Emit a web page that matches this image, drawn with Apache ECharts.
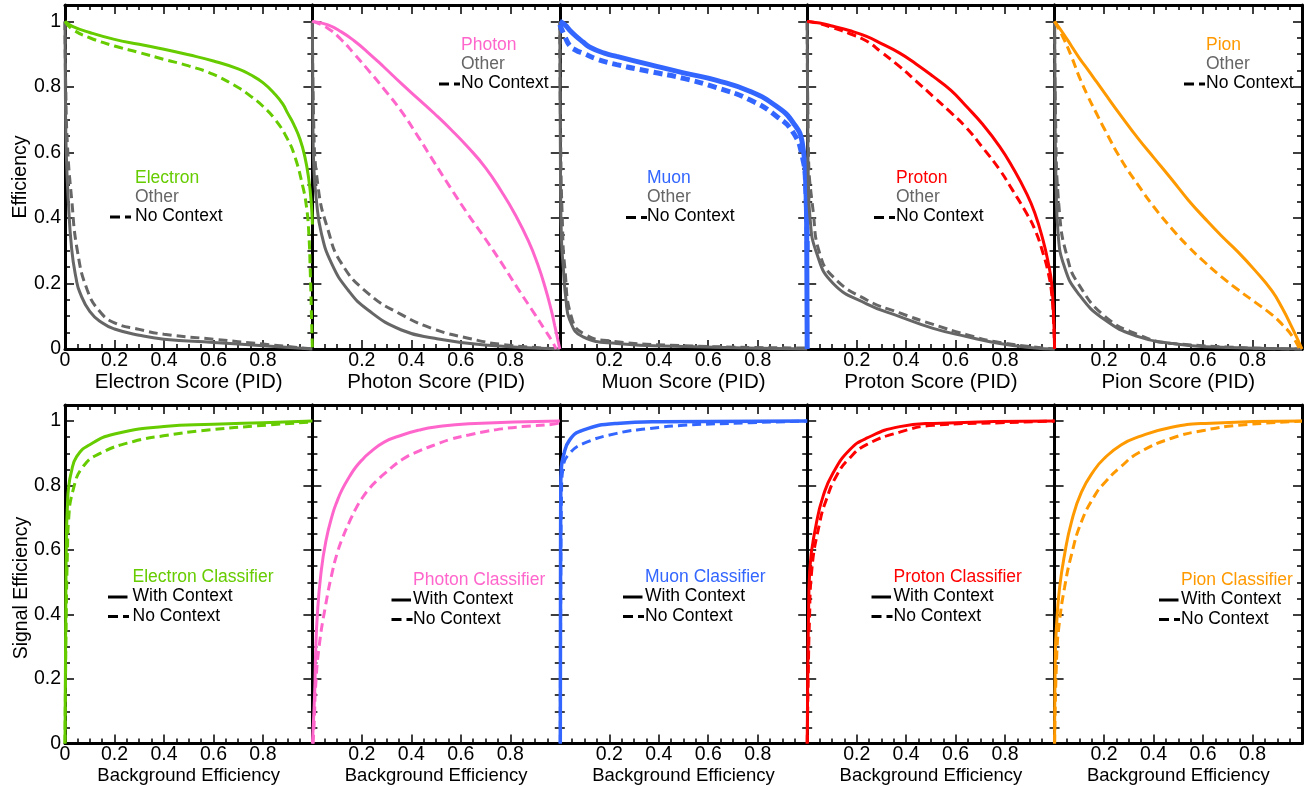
<!DOCTYPE html>
<html>
<head>
<meta charset="utf-8">
<script src="https://cdn.jsdelivr.net/npm/echarts@6/dist/echarts.min.js"></script>
<style>
  html, body { margin: 0; padding: 0; background: #fff; }
  #main { width: 1306px; height: 786px; }
</style>
</head>
<body>
<div id="main"></div>
<script>
// ---- data: [score, efficiency] ----
var electronSig     = [[0,1],[0.03,0.985],[0.1,0.966],[0.2,0.945],[0.3,0.93],[0.4,0.915],[0.5,0.898],[0.6,0.879],[0.7,0.855],[0.75,0.837],[0.8,0.813],[0.85,0.777],[0.88,0.748],[0.9,0.72],[0.925,0.685],[0.95,0.64],[0.97,0.585],[0.985,0.52],[0.995,0.45],[1,0.38]];
var electronSigNo   = [[0,1],[0.03,0.976],[0.1,0.95],[0.2,0.925],[0.3,0.905],[0.4,0.884],[0.5,0.864],[0.6,0.838],[0.7,0.798],[0.75,0.772],[0.8,0.741],[0.85,0.7],[0.9,0.64],[0.93,0.585],[0.96,0.5],[0.975,0.44],[0.985,0.36],[0.992,0.22],[0.997,0.08],[1,0]];
var electronOther   = [[0,1],[0.002,0.75],[0.005,0.6],[0.013,0.457],[0.027,0.305],[0.045,0.215],[0.06,0.173],[0.1,0.115],[0.15,0.08],[0.2,0.061],[0.3,0.042],[0.4,0.03],[0.6,0.02],[0.8,0.01],[1,0]];
var electronOtherNo = [[0,1],[0.003,0.8],[0.01,0.62],[0.027,0.457],[0.05,0.3],[0.09,0.18],[0.14,0.115],[0.2,0.08],[0.3,0.06],[0.4,0.045],[0.6,0.03],[0.8,0.015],[1,0]];

var photonSig     = [[0,1],[0.06,0.99],[0.117,0.968],[0.17,0.94],[0.225,0.905],[0.29,0.86],[0.36,0.81],[0.43,0.762],[0.494,0.718],[0.56,0.67],[0.63,0.615],[0.7,0.553],[0.765,0.48],[0.82,0.41],[0.873,0.33],[0.91,0.26],[0.94,0.19],[0.965,0.12],[0.98,0.07],[1,0]];
var photonSigNo   = [[0,1],[0.06,0.98],[0.117,0.944],[0.17,0.9],[0.225,0.852],[0.29,0.793],[0.36,0.725],[0.43,0.645],[0.494,0.568],[0.56,0.49],[0.63,0.41],[0.7,0.335],[0.765,0.262],[0.83,0.185],[0.9,0.105],[0.94,0.058],[0.968,0.025],[0.985,0]];
var photonOther   = [[0,1],[0.002,0.7],[0.006,0.55],[0.016,0.455],[0.036,0.354],[0.077,0.262],[0.144,0.18],[0.225,0.119],[0.36,0.058],[0.494,0.033],[0.696,0.012],[1,0]];
var photonOtherNo = [[0,1],[0.005,0.7],[0.023,0.495],[0.063,0.364],[0.117,0.262],[0.225,0.17],[0.36,0.105],[0.494,0.06],[0.63,0.033],[0.765,0.014],[1,0]];

var muonSig     = [[0,1],[0.02,0.99],[0.04,0.973],[0.065,0.955],[0.094,0.937],[0.12,0.922],[0.18,0.903],[0.23,0.893],[0.364,0.868],[0.5,0.843],[0.634,0.82],[0.77,0.786],[0.877,0.74],[0.944,0.69],[0.98,0.63],[0.994,0.507],[0.998,0.35],[1,0]];
var muonSigNo   = [[0,0.99],[0.02,0.955],[0.04,0.926],[0.065,0.912],[0.094,0.903],[0.15,0.885],[0.23,0.868],[0.364,0.847],[0.5,0.826],[0.634,0.798],[0.77,0.76],[0.877,0.71],[0.944,0.66],[0.98,0.588],[0.994,0.496],[1,0.3]];
var muonOther   = [[0,1],[0.003,0.5],[0.007,0.33],[0.014,0.25],[0.025,0.15],[0.04,0.089],[0.094,0.037],[0.23,0.017],[0.5,0.008],[1,0]];
var muonOtherNo = [[0,1],[0.004,0.6],[0.01,0.4],[0.02,0.25],[0.05,0.09],[0.1,0.045],[0.2,0.025],[0.5,0.01],[1,0.003]];

var protonSig     = [[0,1],[0.05,0.995],[0.105,0.985],[0.17,0.972],[0.24,0.954],[0.3,0.932],[0.374,0.903],[0.44,0.87],[0.509,0.832],[0.58,0.79],[0.644,0.74],[0.71,0.685],[0.778,0.618],[0.83,0.555],[0.886,0.476],[0.92,0.415],[0.953,0.333],[0.975,0.26],[0.988,0.2],[0.996,0.1],[1,0]];
var protonSigNo   = [[0,1],[0.05,0.993],[0.105,0.98],[0.17,0.963],[0.24,0.94],[0.3,0.906],[0.374,0.862],[0.44,0.818],[0.509,0.771],[0.58,0.722],[0.644,0.675],[0.71,0.614],[0.778,0.547],[0.83,0.485],[0.886,0.415],[0.92,0.365],[0.953,0.293],[0.975,0.23],[0.988,0.17],[0.996,0.08],[1,0]];
var protonOther   = [[0,1],[0.002,0.7],[0.005,0.5],[0.011,0.404],[0.038,0.293],[0.105,0.2],[0.24,0.138],[0.374,0.099],[0.509,0.063],[0.644,0.038],[0.778,0.017],[0.91,0.004],[1,0]];
var protonOtherNo = [[0,1],[0.005,0.6],[0.025,0.414],[0.05,0.293],[0.105,0.22],[0.24,0.15],[0.374,0.11],[0.509,0.075],[0.644,0.044],[0.778,0.02],[1,0]];

var pionSig     = [[0,1],[0.035,0.963],[0.068,0.925],[0.1,0.888],[0.135,0.852],[0.17,0.815],[0.203,0.78],[0.27,0.71],[0.338,0.642],[0.4,0.585],[0.473,0.518],[0.54,0.455],[0.608,0.398],[0.675,0.345],[0.743,0.295],[0.81,0.24],[0.878,0.178],[0.92,0.125],[0.96,0.065],[1,0]];
var pionSigNo   = [[0,1],[0.035,0.95],[0.068,0.893],[0.1,0.83],[0.135,0.771],[0.17,0.718],[0.203,0.669],[0.27,0.577],[0.338,0.5],[0.4,0.435],[0.473,0.368],[0.54,0.313],[0.608,0.264],[0.675,0.22],[0.743,0.18],[0.81,0.143],[0.878,0.105],[0.92,0.075],[0.96,0.04],[0.99,0]];
var pionOther   = [[0,1],[0.002,0.7],[0.006,0.5],[0.014,0.354],[0.04,0.25],[0.095,0.17],[0.203,0.089],[0.338,0.038],[0.473,0.017],[0.608,0.007],[1,0]];
var pionOtherNo = [[0,1],[0.004,0.7],[0.02,0.414],[0.054,0.272],[0.095,0.2],[0.203,0.1],[0.338,0.044],[0.473,0.017],[1,0]];

// ---- ROC: [background eff, signal eff] ----
var electronRoc   = [[0,0],[0.003,0.4],[0.006,0.65],[0.01,0.74],[0.014,0.79],[0.025,0.84],[0.047,0.89],[0.1,0.927],[0.2,0.96],[0.4,0.983],[0.6,0.99],[0.8,0.995],[1,1]];
var electronRocNo = [[0,0],[0.005,0.4],[0.01,0.6],[0.014,0.687],[0.034,0.79],[0.074,0.86],[0.142,0.9],[0.277,0.937],[0.413,0.956],[0.55,0.97],[0.82,0.988],[1,0.997]];
var photonRoc     = [[0,0],[0.005,0.08],[0.01,0.177],[0.013,0.28],[0.02,0.4],[0.034,0.524],[0.054,0.626],[0.081,0.71],[0.1,0.752],[0.121,0.789],[0.15,0.828],[0.175,0.857],[0.2,0.879],[0.228,0.9],[0.29,0.935],[0.363,0.957],[0.43,0.972],[0.497,0.982],[0.632,0.992],[1,1]];
var photonRocNo   = [[0.003,0],[0.008,0.08],[0.013,0.177],[0.027,0.3],[0.054,0.432],[0.081,0.534],[0.1,0.59],[0.121,0.636],[0.15,0.688],[0.175,0.728],[0.2,0.76],[0.228,0.789],[0.26,0.815],[0.296,0.84],[0.363,0.881],[0.43,0.907],[0.497,0.927],[0.56,0.944],[0.632,0.957],[0.7,0.968],[0.766,0.976],[0.85,0.983],[0.97,0.99],[1,0.995]];
var muonRoc       = [[0.002,0],[0.003,0.5],[0.004,0.8],[0.006,0.85],[0.014,0.89],[0.04,0.942],[0.094,0.972],[0.23,0.993],[0.4,0.998],[1,1]];
var muonRocNo     = [[0.002,0],[0.004,0.5],[0.007,0.78],[0.014,0.86],[0.04,0.9],[0.094,0.93],[0.23,0.962],[0.364,0.977],[0.5,0.987],[0.77,0.995],[1,1]];
var protonRoc     = [[0,0],[0.002,0.2],[0.005,0.38],[0.01,0.534],[0.038,0.687],[0.065,0.769],[0.105,0.84],[0.172,0.911],[0.24,0.947],[0.374,0.983],[0.51,0.993],[1,1]];
var protonRocNo   = [[0,0],[0.004,0.2],[0.009,0.38],[0.018,0.534],[0.051,0.687],[0.078,0.758],[0.118,0.83],[0.172,0.886],[0.24,0.927],[0.374,0.966],[0.51,0.987],[0.78,0.995],[1,1]];
var pionRoc       = [[0,0],[0.003,0.28],[0.009,0.38],[0.02,0.483],[0.04,0.585],[0.068,0.687],[0.108,0.779],[0.162,0.85],[0.203,0.886],[0.27,0.927],[0.338,0.951],[0.473,0.981],[0.608,0.993],[1,1]];
var pionRocNo     = [[0,0],[0.009,0.28],[0.02,0.38],[0.04,0.483],[0.068,0.585],[0.108,0.687],[0.162,0.769],[0.203,0.81],[0.27,0.86],[0.338,0.901],[0.473,0.947],[0.608,0.972],[0.743,0.987],[1,1]];

var particles = ['Electron', 'Photon', 'Muon', 'Proton', 'Pion'];
var colors = ['#66cc00', '#ff66cc', '#3366ff', '#ff0000', '#ff9900'];
var otherColor = '#666666';
var yTickLabels = [0, 0.2, 0.4, 0.6, 0.8, 1];
var xTickLabelsFirst = [0, 0.2, 0.4, 0.6, 0.8];
var xTickLabelsRest = [0.2, 0.4, 0.6, 0.8];

var sigCurves = [electronSig, photonSig, muonSig, protonSig, pionSig];
var sigNoCurves = [electronSigNo, photonSigNo, muonSigNo, protonSigNo, pionSigNo];
var otherCurves = [electronOther, photonOther, muonOther, protonOther, pionOther];
var otherNoCurves = [electronOtherNo, photonOtherNo, muonOtherNo, protonOtherNo, pionOtherNo];
var rocCurves = [electronRoc, photonRoc, muonRoc, protonRoc, pionRoc];
var rocNoCurves = [electronRocNo, photonRocNo, muonRocNo, protonRocNo, pionRocNo];

var FONT = '"Liberation Sans", Arial, sans-serif';
var PANEL_L = 65, PANEL_W = 247.4;
var rows = [{ top: 5, height: 344 }, { top: 405, height: 343 }];

function fmt(vals) {
    return function (v) {
        for (var i = 0; i < vals.length; i++) {
            if (Math.abs(v - vals[i]) < 1e-6) return String(vals[i]);
        }
        return '';
    };
}

var line = { onZero: false, lineStyle: { color: '#000', width: 3 } };
var tickStyle = { color: '#000', width: 1.5 };

function xAxes(g, labels, name, nameSize, nameGap) {
    var out = [];
    ['bottom', 'top'].forEach(function (pos) {
        var major = {
            gridIndex: g, type: 'value', position: pos, min: 0, max: 1, interval: 0.2,
            splitLine: { show: false }, axisLine: line,
            axisTick: { inside: true, length: 9, lineStyle: tickStyle },
            axisLabel: { show: false }
        };
        if (pos === 'bottom') {
            major.axisLabel = {
                show: true, margin: 1.5, fontSize: 19.5, fontFamily: FONT, color: '#000',
                showMinLabel: true, showMaxLabel: true, formatter: fmt(labels)
            };
            major.name = name;
            major.nameLocation = 'middle';
            major.nameGap = nameGap;
            major.nameTextStyle = { fontSize: nameSize, fontFamily: FONT, color: '#000' };
        }
        out.push(major);
        out.push({
            gridIndex: g, type: 'value', position: pos, min: 0, max: 1, interval: 0.05,
            splitLine: { show: false }, axisLine: { show: false, onZero: false },
            axisTick: { inside: true, length: 5, lineStyle: tickStyle },
            axisLabel: { show: false }
        });
    });
    return out;
}

function yAxes(g, showLabels) {
    var out = [];
    ['left', 'right'].forEach(function (pos) {
        var major = {
            gridIndex: g, type: 'value', position: pos, min: 0, max: 1.05, interval: 0.2,
            splitLine: { show: false }, axisLine: line,
            axisTick: { inside: true, length: 9, lineStyle: tickStyle },
            axisLabel: { show: false }
        };
        if (pos === 'left' && showLabels) {
            major.axisLabel = {
                show: true, margin: 4, fontSize: 19.5, fontFamily: FONT, color: '#000',
                showMinLabel: true, showMaxLabel: true, formatter: fmt(yTickLabels)
            };
        }
        out.push(major);
        out.push({
            gridIndex: g, type: 'value', position: pos, min: 0, max: 1.05, interval: 0.05,
            splitLine: { show: false }, axisLine: { show: false, onZero: false },
            axisTick: { inside: true, length: 5, lineStyle: tickStyle },
            axisLabel: { show: false }
        });
    });
    return out;
}

function curve(g, data, color, width, dashed) {
    return {
        type: 'line', xAxisIndex: 4 * g, yAxisIndex: 4 * g, data: data,
        symbol: 'none', smooth: 0.5, clip: false, silent: true,
        lineStyle: { color: color, width: width, type: dashed ? [9, 5] : 'solid' }
    };
}

function label(x, y, s, color) {
    return { type: 'text', x: x, y: y, silent: true,
        style: { text: s, fill: color, fontSize: 17.5, fontFamily: FONT, verticalAlign: 'middle', align: 'left' } };
}
function mark(x1, x2, y, dashed) {
    return { type: 'line', silent: true, shape: { x1: x1, y1: y, x2: x2, y2: y },
        style: { stroke: '#000', lineWidth: 3, lineDash: dashed ? [10, 5] : null } };
}

var grids = [], xAxis = [], yAxis = [], series = [], graphic = [];

// top row legend anchors (text left, first line centre y, dash start)
var topLegend = [[135, 178, 110], [461, 45, 439], [647, 178.5, 626], [896, 178.5, 874], [1206, 45, 1184]];
// bottom row legend anchors
var botLegend = [[132.5, 577.5, 108], [413, 580.5, 391.5], [645, 577.5, 623], [893.5, 577.5, 871.5], [1181, 580.5, 1159]];

for (var r = 0; r < 2; r++) {
    for (var i = 0; i < 5; i++) {
        var g = r * 5 + i;
        grids.push({ left: PANEL_L + i * PANEL_W, width: PANEL_W, top: rows[r].top, height: rows[r].height });
        var xName = r === 0 ? particles[i] + ' Score (PID)' : 'Background Efficiency';
        xAxis = xAxis.concat(xAxes(g, i === 0 ? xTickLabelsFirst : xTickLabelsRest, xName,
            r === 0 ? 20.5 : 18.5, r === 0 ? 17 : 19));
        yAxis = yAxis.concat(yAxes(g, i === 0));

        var w = (r === 0 && i === 2) ? 5 : 3;
        if (r === 0) {
            series.push(curve(g, otherNoCurves[i], otherColor, 3, true));
            series.push(curve(g, otherCurves[i], otherColor, 3, false));
            series.push(curve(g, sigNoCurves[i], colors[i], w, true));
            series.push(curve(g, sigCurves[i], colors[i], w, false));
            var L = topLegend[i];
            graphic.push(label(L[0], L[1], particles[i], colors[i]));
            graphic.push(label(L[0], L[1] + 19, 'Other', otherColor));
            graphic.push(label(L[0], L[1] + 38, 'No Context', '#000'));
            graphic.push(mark(L[2], L[2] + 21, L[1] + 39, true));
        } else {
            series.push(curve(g, rocNoCurves[i], colors[i], 3, true));
            series.push(curve(g, rocCurves[i], colors[i], i === 2 ? 3.5 : 3, false));
            var B = botLegend[i];
            graphic.push(label(B[0], B[1], particles[i] + ' Classifier', colors[i]));
            graphic.push(label(B[0], B[1] + 19, 'With Context', '#000'));
            graphic.push(label(B[0], B[1] + 38.5, 'No Context', '#000'));
            graphic.push(mark(B[2], B[2] + 19.5, B[1] + 19.5, false));
            graphic.push(mark(B[2], B[2] + 21, B[1] + 39, true));
        }
    }
}

graphic.push({ type: 'text', x: 21, y: 177, rotation: Math.PI / 2, silent: true,
    style: { text: 'Efficiency', fill: '#000', fontSize: 19.5, fontFamily: FONT, align: 'center', verticalAlign: 'middle' } });
graphic.push({ type: 'text', x: 22, y: 588, rotation: Math.PI / 2, silent: true,
    style: { text: 'Signal Efficiency', fill: '#000', fontSize: 19.5, fontFamily: FONT, align: 'center', verticalAlign: 'middle' } });

var myChart = echarts.init(document.getElementById('main'), null, { renderer: 'canvas' });
myChart.setOption({
    animation: false,
    backgroundColor: '#fff',
    grid: grids,
    xAxis: xAxis,
    yAxis: yAxis,
    series: series,
    graphic: graphic
});
</script>
</body>
</html>
